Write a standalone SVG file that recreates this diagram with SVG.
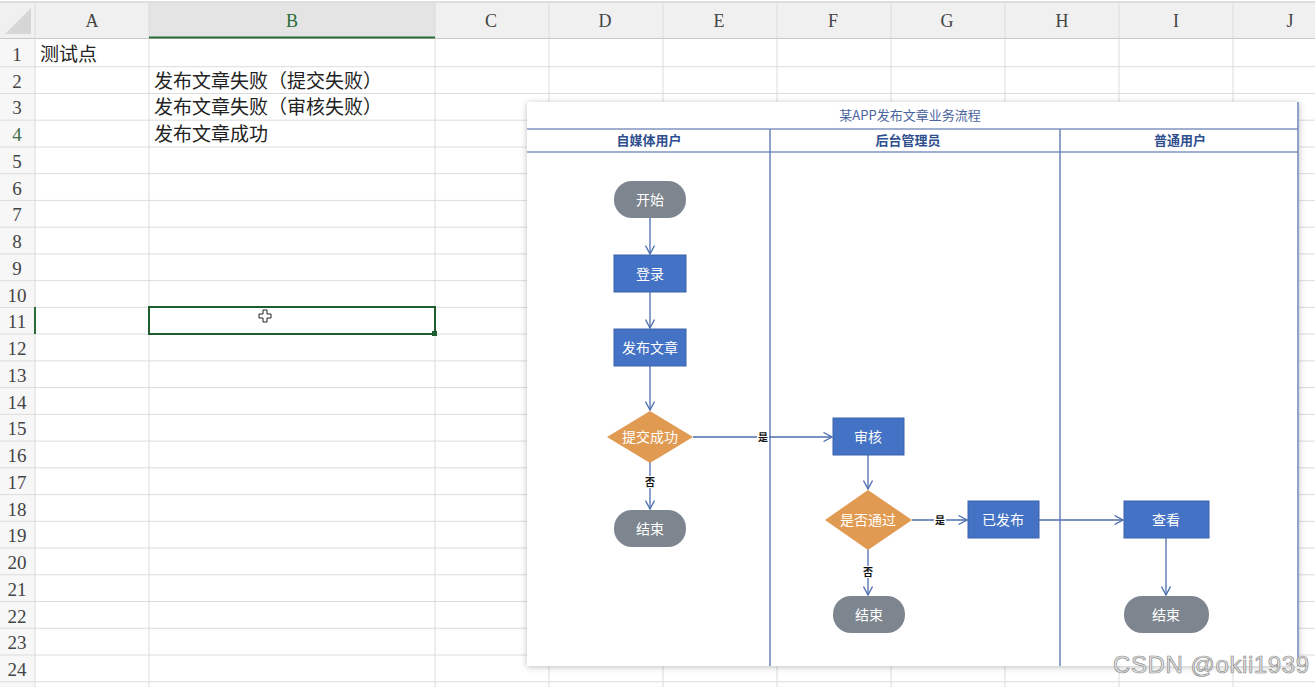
<svg xmlns="http://www.w3.org/2000/svg" width="1315" height="687" viewBox="0 0 1315 687">
<defs>
<style>
.grid{stroke:#dcdcdc;stroke-width:1}
.colh{font-family:"Liberation Serif",serif;font-size:18px;fill:#444;text-anchor:middle}
.rowh{font-family:"Liberation Serif",serif;font-size:19px;fill:#444;text-anchor:middle}
.cell{font-family:"Noto Sans CJK SC",sans-serif;font-size:19px;fill:#222}
.title{font-family:"Noto Sans CJK SC",sans-serif;font-size:13px;fill:#4a64a0;text-anchor:middle}
.lane{font-family:"Noto Sans CJK SC",sans-serif;font-size:13px;font-weight:bold;fill:#2f4f8f;text-anchor:middle}
.lline{stroke:#8193c0;stroke-width:1.5}
.vline{stroke:#6a84b4;stroke-width:1.5}
.proc{fill:#4472c4;stroke:#3a62aa;stroke-width:1}
.term{fill:#7d858f}
.dec{fill:#e09a52}
.nt{font-family:"Noto Sans CJK SC",sans-serif;font-size:14px;fill:#fff;text-anchor:middle}
.conn path{fill:none;stroke:#4c6eae;stroke-width:1.3;marker-end:url(#arr)}
.lbl{font-family:"Noto Sans CJK SC",sans-serif;font-size:10px;font-weight:bold;fill:#111;text-anchor:middle}
</style>
<marker id="arr" viewBox="0 0 10 10" refX="9.5" refY="5" markerWidth="10" markerHeight="10" markerUnits="userSpaceOnUse" orient="auto">
<path d="M1,0.5 L9.5,5 L1,9.5" fill="none" stroke="#4c6eae" stroke-width="1.3"/>
</marker>
<filter id="sh" x="-5%" y="-5%" width="110%" height="110%">
<feDropShadow dx="0" dy="1" stdDeviation="3" flood-color="#000" flood-opacity="0.25"/>
</filter>
</defs>
<rect width="1315" height="687" fill="#fff"/>
<g id="sheet">
<rect x="0" y="3" width="1315" height="35" fill="#f0f0f0"/>
<rect x="149" y="3" width="286" height="35" fill="#e4e4e4"/>
<rect x="0" y="38" width="35" height="649" fill="#f7f7f7"/>
<line x1="0" y1="2" x2="1315" y2="2" stroke="#bdbdbd"/>
<polygon points="31,8 31,34 5,34" fill="#d6d6d6"/>
<g class="grid">
<line x1="0" y1="38.5" x2="1315" y2="38.5" stroke="#c8c8c8"/>
<line x1="35" y1="3" x2="35" y2="687"/>
<line x1="149" y1="3" x2="149" y2="687"/>
<line x1="435" y1="3" x2="435" y2="687"/>
<line x1="549" y1="3" x2="549" y2="687"/>
<line x1="663" y1="3" x2="663" y2="687"/>
<line x1="777" y1="3" x2="777" y2="687"/>
<line x1="891" y1="3" x2="891" y2="687"/>
<line x1="1005" y1="3" x2="1005" y2="687"/>
<line x1="1119" y1="3" x2="1119" y2="687"/>
<line x1="1233" y1="3" x2="1233" y2="687"/>
<line x1="0" y1="66.7" x2="1315" y2="66.7"/>
<line x1="0" y1="93.5" x2="1315" y2="93.5"/>
<line x1="0" y1="120.2" x2="1315" y2="120.2"/>
<line x1="0" y1="147" x2="1315" y2="147"/>
<line x1="0" y1="173.7" x2="1315" y2="173.7"/>
<line x1="0" y1="200.4" x2="1315" y2="200.4"/>
<line x1="0" y1="227.2" x2="1315" y2="227.2"/>
<line x1="0" y1="253.9" x2="1315" y2="253.9"/>
<line x1="0" y1="280.7" x2="1315" y2="280.7"/>
<line x1="0" y1="307.4" x2="1315" y2="307.4"/>
<line x1="0" y1="334.1" x2="1315" y2="334.1"/>
<line x1="0" y1="360.9" x2="1315" y2="360.9"/>
<line x1="0" y1="387.6" x2="1315" y2="387.6"/>
<line x1="0" y1="414.4" x2="1315" y2="414.4"/>
<line x1="0" y1="441.1" x2="1315" y2="441.1"/>
<line x1="0" y1="467.8" x2="1315" y2="467.8"/>
<line x1="0" y1="494.6" x2="1315" y2="494.6"/>
<line x1="0" y1="521.3" x2="1315" y2="521.3"/>
<line x1="0" y1="548.1" x2="1315" y2="548.1"/>
<line x1="0" y1="574.8" x2="1315" y2="574.8"/>
<line x1="0" y1="601.5" x2="1315" y2="601.5"/>
<line x1="0" y1="628.3" x2="1315" y2="628.3"/>
<line x1="0" y1="655" x2="1315" y2="655"/>
<line x1="0" y1="681.8" x2="1315" y2="681.8"/>
</g>
<line x1="149" y1="37.5" x2="435" y2="37.5" stroke="#2a6b3a" stroke-width="2"/>
<line x1="35" y1="307" x2="35" y2="334" stroke="#2a6b3a" stroke-width="2"/>
<text class="colh" x="92" y="27">A</text>
<text class="colh" x="292" y="27" style="fill:#2a6b3a">B</text>
<text class="colh" x="491" y="27">C</text>
<text class="colh" x="605" y="27">D</text>
<text class="colh" x="719" y="27">E</text>
<text class="colh" x="833" y="27">F</text>
<text class="colh" x="947" y="27">G</text>
<text class="colh" x="1062" y="27">H</text>
<text class="colh" x="1176" y="27">I</text>
<text class="colh" x="1290" y="27">J</text>
<text class="rowh" x="17" y="61">1</text>
<text class="rowh" x="17" y="88">2</text>
<text class="rowh" x="17" y="114">3</text>
<text class="rowh" x="17" y="141" style="fill:#3d6e4a">4</text>
<text class="rowh" x="17" y="168">5</text>
<text class="rowh" x="17" y="195">6</text>
<text class="rowh" x="17" y="221">7</text>
<text class="rowh" x="17" y="248">8</text>
<text class="rowh" x="17" y="275">9</text>
<text class="rowh" x="17" y="302">10</text>
<text class="rowh" x="17" y="328">11</text>
<text class="rowh" x="17" y="355">12</text>
<text class="rowh" x="17" y="382">13</text>
<text class="rowh" x="17" y="409">14</text>
<text class="rowh" x="17" y="435">15</text>
<text class="rowh" x="17" y="462">16</text>
<text class="rowh" x="17" y="489">17</text>
<text class="rowh" x="17" y="516">18</text>
<text class="rowh" x="17" y="542">19</text>
<text class="rowh" x="17" y="569">20</text>
<text class="rowh" x="17" y="596">21</text>
<text class="rowh" x="17" y="623">22</text>
<text class="rowh" x="17" y="649">23</text>
<text class="rowh" x="17" y="676">24</text>
<text class="cell" x="40" y="61">测试点</text>
<text class="cell" x="154" y="88">发布文章失败（提交失败）</text>
<text class="cell" x="154" y="114">发布文章失败（审核失败）</text>
<text class="cell" x="154" y="141">发布文章成功</text>
<rect x="149" y="307" width="286" height="27" fill="none" stroke="#1f5c2e" stroke-width="2"/>
<rect x="432" y="331" width="5" height="5" fill="#1f5c2e"/>
<path d="M263,310 h4 v4 h4 v4 h-4 v4 h-4 v-4 h-4 v-4 h4 z" fill="#fff" stroke="#222" stroke-width="1"/>
</g>
<g id="panel">
<rect x="527" y="102" width="772" height="564" fill="#fff" filter="url(#sh)"/>
<text class="title" x="910" y="120">某APP发布文章业务流程</text>
<line class="lline" x1="527" y1="129" x2="1298" y2="129"/>
<line class="lline" x1="527" y1="152" x2="1298" y2="152"/>
<line class="vline" x1="770" y1="129" x2="770" y2="666"/>
<line class="vline" x1="1060" y1="129" x2="1060" y2="666"/>
<line class="vline" x1="1298" y1="102" x2="1298" y2="666"/>
<text class="lane" x="649" y="145">自媒体用户</text>
<text class="lane" x="908" y="145">后台管理员</text>
<text class="lane" x="1180" y="145">普通用户</text>
</g>
<g id="connectors" class="conn">
<path d="M650,218 V254"/>
<path d="M650,292 V328"/>
<path d="M650,366 V410"/>
<path d="M650,462 V509"/>
<path d="M693,437 H832"/>
<path d="M868,455 V489"/>
<path d="M912,520 H967"/>
<path d="M868,549 V595"/>
<path d="M1039,520 H1123"/>
<path d="M1166,538 V595"/>
<rect x="644" y="476" width="12" height="12" fill="#fff" stroke="none"/>
<text class="lbl" x="650" y="486">否</text>
<rect x="757" y="431" width="12" height="12" fill="#fff" stroke="none"/>
<text class="lbl" x="763" y="441">是</text>
<rect x="934" y="514" width="12" height="12" fill="#fff" stroke="none"/>
<text class="lbl" x="940" y="524">是</text>
<rect x="862" y="566" width="12" height="12" fill="#fff" stroke="none"/>
<text class="lbl" x="868" y="576">否</text>
</g>
<g id="n-start"><rect class="term" x="614" y="181" width="72" height="37" rx="18"/><text class="nt" x="650" y="204.5">开始</text></g>
<g id="n-login"><rect class="proc" x="614" y="255" width="72" height="37"/><text class="nt" x="650" y="278.5">登录</text></g>
<g id="n-publish"><rect class="proc" x="614" y="329" width="72" height="37"/><text class="nt" x="650" y="352.5">发布文章</text></g>
<g id="n-submit"><polygon class="dec" points="650,411 693,437 650,463 607,437"/><text class="nt" x="650" y="442">提交成功</text></g>
<g id="n-end1"><rect class="term" x="614" y="510" width="72" height="37" rx="18"/><text class="nt" x="650" y="533.5">结束</text></g>
<g id="n-review"><rect class="proc" x="833" y="418" width="71" height="37"/><text class="nt" x="868" y="441.5">审核</text></g>
<g id="n-pass"><polygon class="dec" points="868,490 912,520 868,550 825,520"/><text class="nt" x="868" y="525">是否通过</text></g>
<g id="n-published"><rect class="proc" x="968" y="501" width="71" height="37"/><text class="nt" x="1003" y="524.5">已发布</text></g>
<g id="n-end2"><rect class="term" x="833" y="596" width="72" height="37" rx="18"/><text class="nt" x="869" y="619.5">结束</text></g>
<g id="n-view"><rect class="proc" x="1124" y="501" width="85" height="37"/><text class="nt" x="1166" y="524.5">查看</text></g>
<g id="n-end3"><rect class="term" x="1124" y="596" width="85" height="37" rx="18"/><text class="nt" x="1166" y="619.5">结束</text></g>
<text x="1113" y="673" textLength="196" font-family="Liberation Sans, sans-serif" font-size="24" fill="#e6e6e6" stroke="#8c8c8c" stroke-width="0.7">CSDN @okii1939</text>
</svg>
